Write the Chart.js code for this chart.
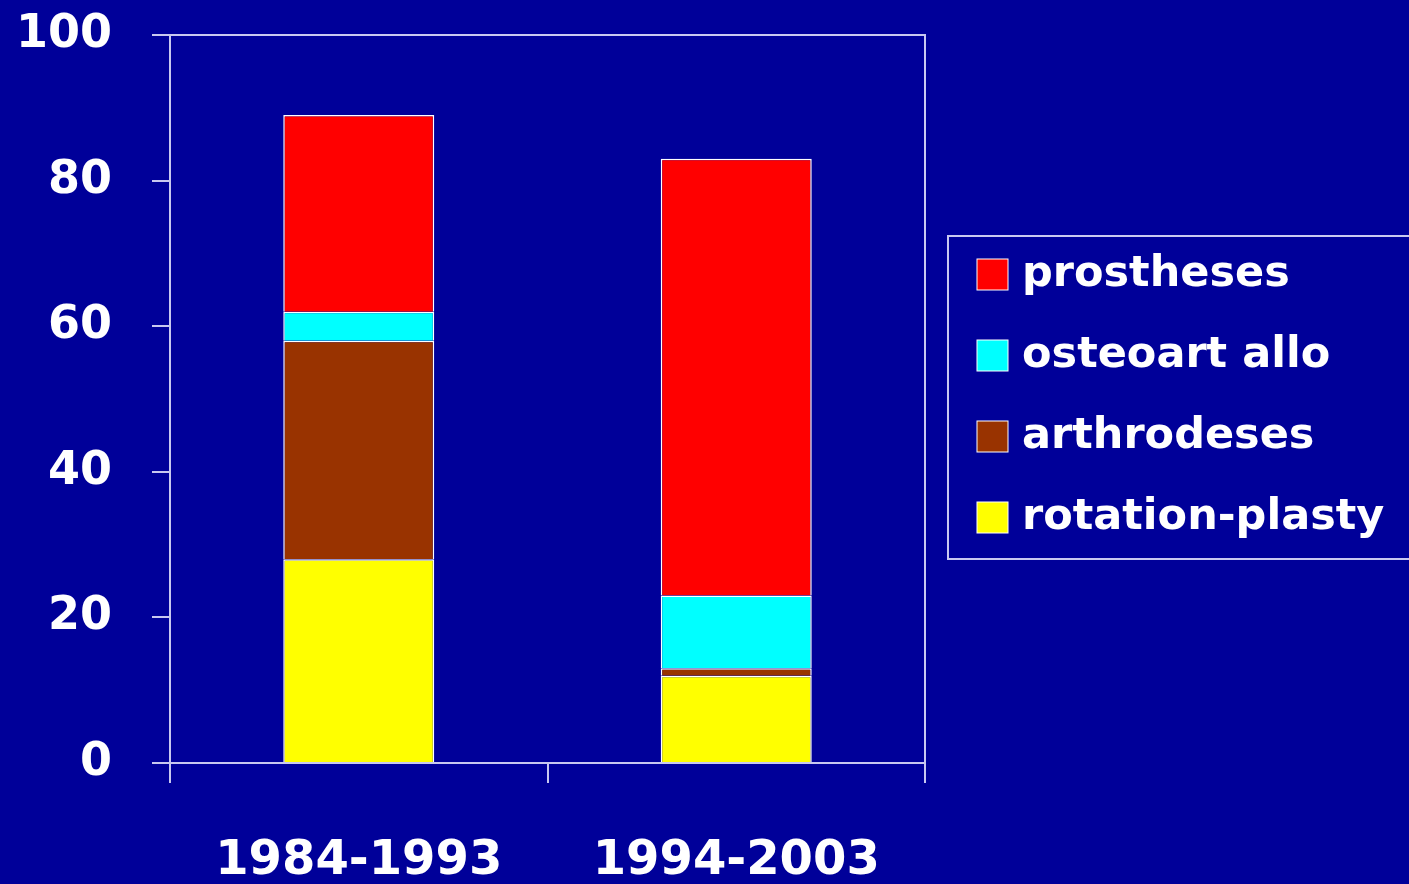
<!DOCTYPE html>
<html>
<head>
<meta charset="utf-8">
<script src="https://cdn.jsdelivr.net/npm/chart.js@4"></script>
<style>
  html, body { margin: 0; padding: 0; background: #000099; }
  #wrap { width: 1409px; height: 884px; position: relative; }
</style>
</head>
<body>
<div id="wrap"><canvas id="myChart" width="1409" height="884"></canvas></div>
<script>
const periods = ['1984-1993', '1994-2003'];
const rotationPlasty = [28, 12];
const arthrodeses = [30, 1];
const osteoartAllo = [4, 10];
const prostheses = [27, 60];
const yTicks = [0, 20, 40, 60, 80, 100];

const lineColor = '#c8c8f0';
const fontFamily = '"Comic Sans MS", "DejaVu Sans", sans-serif';

const data = {
  labels: periods,
  datasets: [
    { label: 'rotation-plasty', data: rotationPlasty, backgroundColor: '#ffff00' },
    { label: 'arthrodeses', data: arthrodeses, backgroundColor: '#993300' },
    { label: 'osteoart allo', data: osteoartAllo, backgroundColor: '#00ffff' },
    { label: 'prostheses', data: prostheses, backgroundColor: '#ff0000' }
  ].map(d => Object.assign(d, {
    borderColor: '#ffffff',
    borderWidth: 1.5,
    barPercentage: 0.4,
    categoryPercentage: 1
  }))
};

// frame round the plot area and the boxed legend on the right
const frameAndLegend = {
  id: 'frameAndLegend',
  afterDraw(chart) {
    const ctx = chart.ctx;
    const a = chart.chartArea;
    ctx.save();
    ctx.strokeStyle = lineColor;
    ctx.lineWidth = 2;
    ctx.strokeRect(a.left, a.top, a.right - a.left, a.bottom - a.top);

    ctx.strokeRect(948, 236, 480, 323);
    const items = chart.data.datasets.slice().reverse();
    ctx.font = 'bold 43px ' + fontFamily;
    ctx.textBaseline = 'middle';
    items.forEach((ds, i) => {
      const y = 275 + i * 81;
      ctx.fillStyle = ds.backgroundColor;
      ctx.fillRect(977, y - 16, 31, 31);
      ctx.strokeStyle = '#ffffff';
      ctx.lineWidth = 1;
      ctx.strokeRect(977, y - 16, 31, 31);
      ctx.fillStyle = '#ffffff';
      ctx.fillText(ds.label, 1022, y);
    });
    ctx.restore();
  }
};

const config = {
  type: 'bar',
  data: data,
  options: {
    responsive: false,
    animation: false,
    layout: { padding: { top: 35, right: 484, left: 0, bottom: 0 } },
    plugins: {
      legend: { display: false },
      tooltip: { enabled: false }
    },
    scales: {
      x: {
        stacked: true,
        afterFit(scale) {
          scale.height = 121;
          scale.paddingLeft = 0;
          scale.paddingRight = 0;
        },
        border: { color: lineColor, width: 2 },
        grid: {
          offset: true,
          drawOnChartArea: false,
          drawTicks: true,
          tickLength: 20,
          color: lineColor,
          lineWidth: 2
        },
        ticks: {
          color: '#ffffff',
          padding: 50,
          font: { family: fontFamily, size: 48, weight: 'bold' }
        }
      },
      y: {
        stacked: true,
        min: 0,
        max: 100,
        afterFit(scale) {
          scale.width = 170;
          scale.paddingTop = 0;
          scale.paddingBottom = 0;
        },
        afterBuildTicks(scale) { scale.ticks = yTicks.map(v => ({ value: v })); },
        border: { color: lineColor, width: 2 },
        grid: {
          drawOnChartArea: false,
          drawTicks: true,
          tickLength: 18,
          color: lineColor,
          lineWidth: 2
        },
        ticks: {
          color: '#ffffff',
          padding: 40,
          font: { family: fontFamily, size: 46, weight: 'bold' }
        }
      }
    }
  },
  plugins: [frameAndLegend]
};

const myChart = new Chart(
  document.getElementById('myChart'),
  config
);
</script>
</body>
</html>
